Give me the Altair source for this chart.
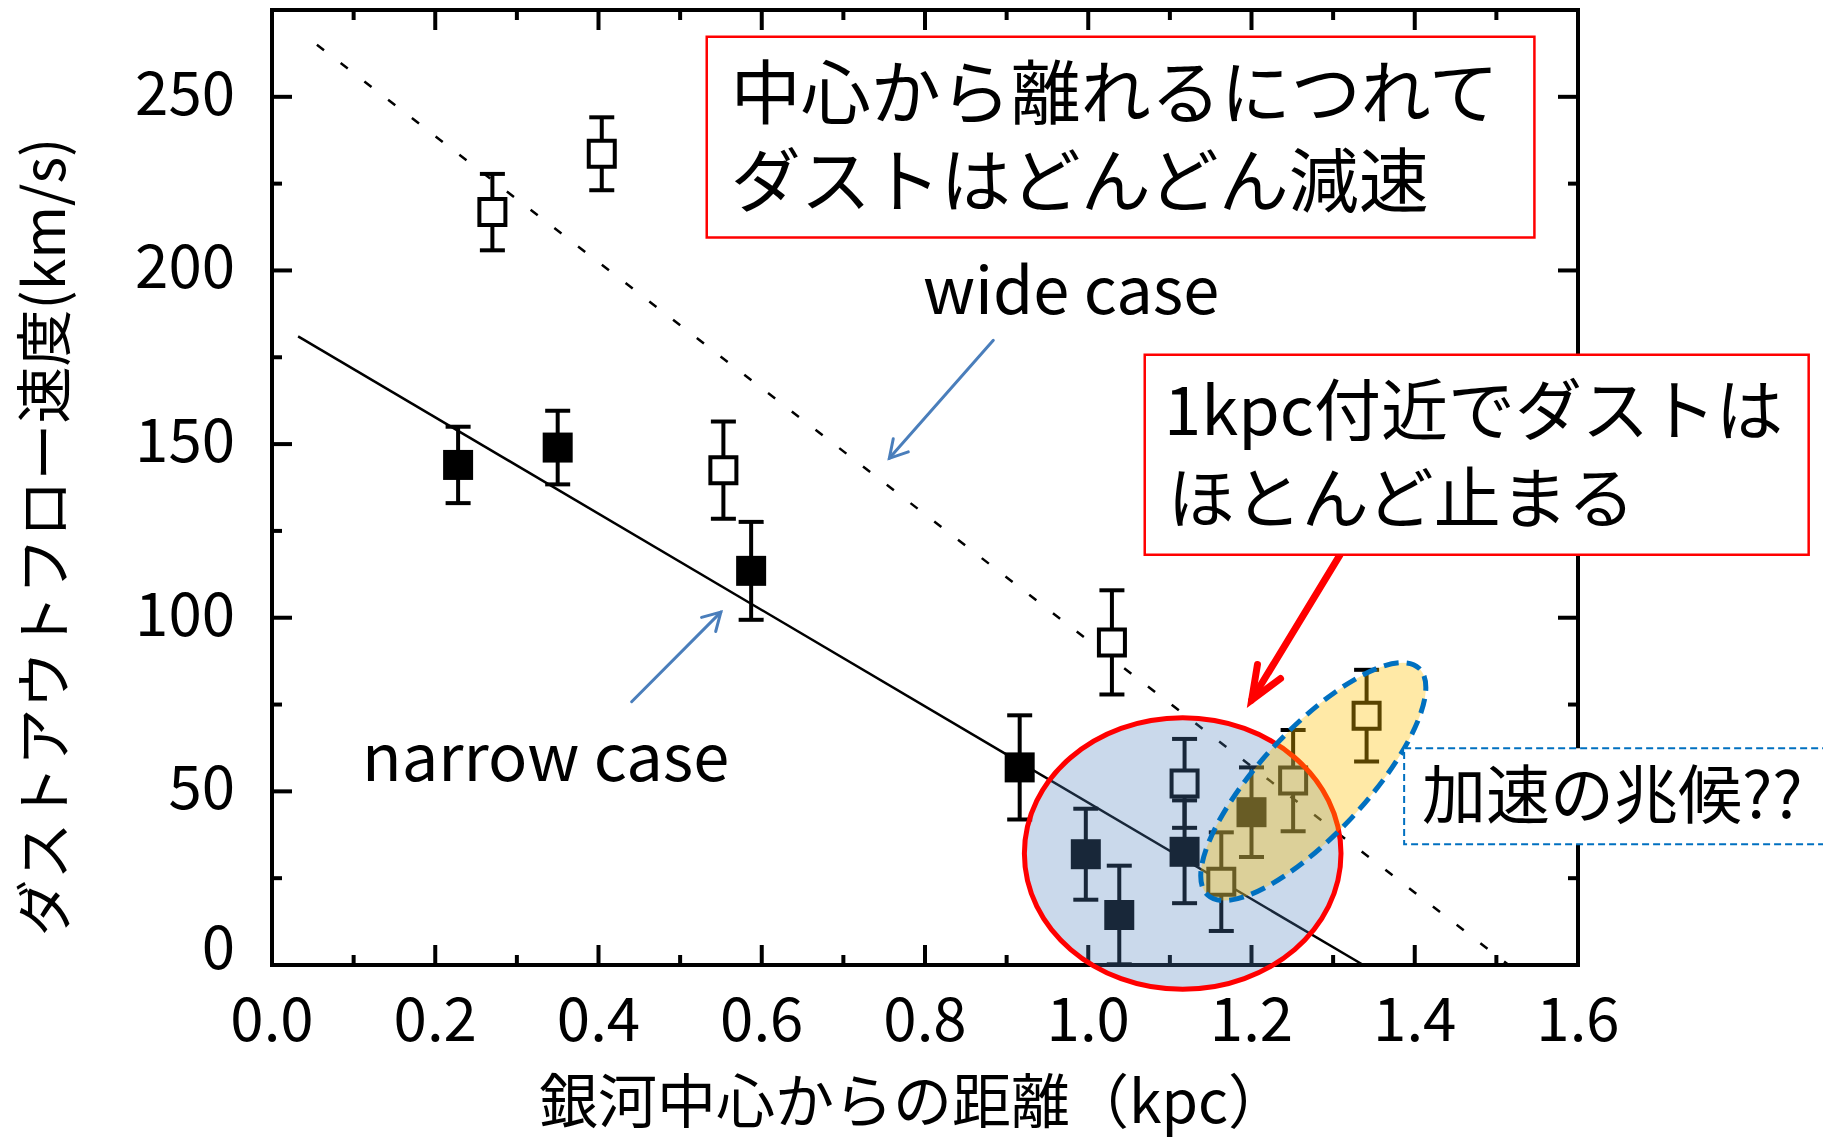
import altair as alt
import pandas as pd

# ---- measurements ---------------------------------------------------------
# narrow case (filled squares): distance from the galactic centre [kpc],
# dust outflow speed [km/s] and its error
narrow_r = [0.228, 0.350, 0.587, 0.916, 0.997, 1.038, 1.118, 1.200]
narrow_v = [144.0, 149.0, 113.5, 56.9, 31.9, 14.4, 32.6, 44.0]
narrow_e = [11.0, 10.6, 14.1, 15.0, 13.1, 14.2, 14.8, 12.9]

# wide case (open squares)
wide_r = [0.270, 0.404, 0.553, 1.029, 1.118, 1.163, 1.251, 1.341]
wide_v = [216.8, 233.6, 142.5, 92.9, 52.3, 24.0, 53.1, 71.8]
wide_e = [11.0, 10.5, 14.0, 15.0, 12.8, 14.2, 14.6, 13.2]

# linear fits, given by their end points
narrow_fit_r = [0.032, 1.337]
narrow_fit_v = [181.0, 0.0]
wide_fit_r = [0.055, 1.515]
wide_fit_v = [265.0, 0.0]

# axis ticks and their labels
x_major = [0.0, 0.2, 0.4, 0.6, 0.8, 1.0, 1.2, 1.4, 1.6]
x_minor = [0.1, 0.3, 0.5, 0.7, 0.9, 1.1, 1.3, 1.5]
y_major = [0, 50, 100, 150, 200, 250]
y_minor = [25, 75, 125, 175, 225]
x_labels = ["0.0", "0.2", "0.4", "0.6", "0.8", "1.0", "1.2", "1.4", "1.6"]
y_labels = ["0", "50", "100", "150", "200", "250"]

x_title = "銀河中心からの距離（kpc）"
y_title = "ダストアウトフロー速度(km/s)"

# ---- layout ----------------------------------------------------------------
W, H = 1306, 955
FONT = "Noto Sans CJK JP"
XS = alt.Scale(domain=[0, 1.6], nice=False, zero=False)
YS = alt.Scale(domain=[0, 275], nice=False, zero=False)


def X(field="r", **kw):
    return alt.X(field, type="quantitative", scale=XS, axis=None, **kw)


def Y(field="v", **kw):
    return alt.Y(field, type="quantitative", scale=YS, axis=None, **kw)


narrow = pd.DataFrame({"r": narrow_r, "v": narrow_v, "e": narrow_e})
wide = pd.DataFrame({"r": wide_r, "v": wide_v, "e": wide_e})
for df in (narrow, wide):
    df["lo"] = (df["v"] - df["e"]).clip(lower=0)
    df["hi"] = df["v"] + df["e"]

one = pd.DataFrame({"k": [0]})

# frame around the plot area
frame = alt.Chart(one).mark_rect(filled=False, stroke="black", strokeWidth=4).encode(
    x=alt.value(0), x2=alt.value(W), y=alt.value(0), y2=alt.value(H)
)


# inward ticks on all four sides
def xticks(values, length):
    d = pd.DataFrame({"r": values})
    base = alt.Chart(d).mark_rule(color="black", strokeWidth=4)
    return [
        base.encode(x=X(), y=alt.value(H), y2=alt.value(H - length)),
        base.encode(x=X(), y=alt.value(0), y2=alt.value(length)),
    ]


def yticks(values, length):
    d = pd.DataFrame({"v": values})
    base = alt.Chart(d).mark_rule(color="black", strokeWidth=4)
    return [
        base.encode(y=Y(), x=alt.value(0), x2=alt.value(length)),
        base.encode(y=Y(), x=alt.value(W), x2=alt.value(W - length)),
    ]


ticks = xticks(x_major, 20) + xticks(x_minor, 10) + yticks(y_major, 20) + yticks(y_minor, 10)

# tick labels
x_tick_labels = alt.Chart(pd.DataFrame({"r": x_major, "t": x_labels})).mark_text(
    font=FONT, fontSize=60, color="black", align="center", baseline="middle"
).encode(x=X(), y=alt.value(H + 58), text="t:N")

ylab = pd.DataFrame({"v": y_major, "t": y_labels})
y_tick_labels = alt.Chart(ylab[ylab["v"] > 0]).mark_text(
    font=FONT, fontSize=60, color="black", align="right", baseline="middle"
).encode(y=Y(), x=alt.value(-37), text="t:N")
# the zero label sits a little above its tick, clear of the x labels
y_zero_label = alt.Chart(ylab[ylab["v"] == 0]).mark_text(
    font=FONT, fontSize=60, color="black", align="right", baseline="middle", dy=-14
).encode(y=Y(), x=alt.value(-37), text="t:N")

# axis titles
x_axis_title = alt.Chart(pd.DataFrame({"t": [x_title]})).mark_text(
    font=FONT, fontSize=59, color="black", align="center", baseline="middle", dy=-1
).encode(x=alt.value(641), y=alt.value(H + 141), text="t:N")
y_axis_title = alt.Chart(pd.DataFrame({"t": [y_title]})).mark_text(
    font=FONT, fontSize=57, color="black", align="center", baseline="middle", angle=270
).encode(x=alt.value(-224), y=alt.value(527), text="t:N")

# fitted lines
narrow_fit = alt.Chart(pd.DataFrame({"r": narrow_fit_r, "v": narrow_fit_v})).mark_line(
    color="black", strokeWidth=2.5
).encode(x=X(), y=Y())
wide_fit = alt.Chart(pd.DataFrame({"r": wide_fit_r, "v": wide_fit_v})).mark_line(
    color="black", strokeWidth=2.5, strokeDash=[9, 21]
).encode(x=X(), y=Y())


def error_bars(df):
    bar = alt.Chart(df).mark_rule(color="black", strokeWidth=4).encode(
        x=X(), y=Y("lo"), y2="hi"
    )
    caps = pd.DataFrame({"r": list(df["r"]) * 2, "v": list(df["lo"]) + list(df["hi"])})
    cap = alt.Chart(caps).mark_tick(
        orient="horizontal", color="black", size=25, thickness=4, opacity=1
    ).encode(x=X(), y=Y())
    return [bar, cap]


wide_pts = alt.Chart(wide).mark_square(
    size=676, fill="white", stroke="black", strokeWidth=4, opacity=1
).encode(x=X(), y=Y())
narrow_pts = alt.Chart(narrow).mark_square(size=900, color="black", opacity=1).encode(
    x=X(), y=Y()
)

# highlighted regions
ELLIPSE_BLUE = "M -1 0 A 1 0.858 0 1 0 1 0 A 1 0.858 0 1 0 -1 0 Z"
ELLIPSE_GOLD = "M -1 0 A 1 0.34 0 1 0 1 0 A 1 0.34 0 1 0 -1 0 Z"
stop_region = alt.Chart(pd.DataFrame({"r": [1.1157], "v": [32.1]})).mark_point(
    shape=ELLIPSE_BLUE, size=316.6 ** 2, filled=True, fill="#4f81bd", fillOpacity=0.3,
    stroke="#ff0000", strokeWidth=5, strokeOpacity=1, opacity=1,
).encode(x=X(), y=Y())
accel_region = alt.Chart(pd.DataFrame({"r": [1.2757], "v": [52.8]})).mark_point(
    shape=ELLIPSE_GOLD, size=310 ** 2, angle=313, filled=True, fill="#ffc000",
    fillOpacity=0.35, stroke="#0070c0", strokeWidth=5, strokeOpacity=1,
    strokeDash=[15, 8], opacity=1,
).encode(x=X(), y=Y())

# arrows
V_WIDE = "M -0.375 -0.927 L 0 0 L 0.375 -0.927"
V_THIN = "M -0.5 -0.866 L 0 0 L 0.5 -0.866"


def arrow(r0, v0, r1, v1, color, width, head, head_size, angle):
    d = pd.DataFrame({"r": [r0], "v": [v0], "r2": [r1], "v2": [v1]})
    shaft = alt.Chart(d).mark_rule(color=color, strokeWidth=width, strokeCap="round").encode(
        x=X(), y=Y(), x2="r2", y2="v2"
    )
    tip = alt.Chart(d).mark_point(
        shape=head, size=head_size, angle=angle, filled=False, stroke=color,
        strokeWidth=width, strokeCap="round", opacity=1,
    ).encode(x=X("r2"), y=Y("v2"))
    return [shaft, tip]


arrows = (
    arrow(1.3084, 118.1, 1.2002, 76.3, "#ff0000", 7, V_WIDE, 72 ** 2, 31.3)
    + arrow(0.8837, 179.9, 0.7563, 145.9, "#4a7ebb", 3, V_THIN, 40 ** 2, 41.3)
    + arrow(0.4406, 75.8, 0.5499, 101.6, "#4a7ebb", 3, V_THIN, 40 ** 2, 225)
)

# callout boxes
boxes = pd.DataFrame({
    "r": [0.5326, 1.0692], "r2": [1.5466, 1.8826],
    "v": [267.3, 175.7], "v2": [209.5, 118.1],
})
red_boxes = alt.Chart(boxes).mark_rect(fill="white", stroke="#ff0000", strokeWidth=2.5).encode(
    x=X(), x2="r2", y=Y(), y2="v2"
)
hint_box = alt.Chart(pd.DataFrame({"r": [1.387], "r2": [1.95], "v": [62.4], "v2": [34.8]})).mark_rect(
    fill="white", stroke="#0070c0", strokeWidth=2, strokeDash=[7, 4]
).encode(x=X(), x2="r2", y=Y(), y2="v2")


def label(rows, size, baseline="middle", dy=0):
    d = pd.DataFrame(rows, columns=["r", "v", "t"])
    return alt.Chart(d).mark_text(
        align="left", baseline=baseline, font=FONT, fontSize=size, color="black", dy=dy
    ).encode(x=X(), y=Y(), text="t:N")


texts = [
    label([(0.562, 251.5, "中心から離れるにつれて"), (0.562, 226.0, "ダストはどんどん減速")], 70, dy=6),
    label([(1.0928, 160.1, "1kpc付近でダストは"), (1.0975, 134.8, "ほとんど止まる")], 67, dy=6),
    label([(1.4089, 49.2, "加速の兆候??")], 64, dy=5),
    label([(0.7975, 187.5, "wide case"), (0.1103, 53.0, "narrow case")], 65, baseline="alphabetic"),
]

layers = (
    [frame] + ticks + [narrow_fit, wide_fit]
    + error_bars(wide) + error_bars(narrow) + [wide_pts, narrow_pts]
    + [stop_region, accel_region]
    + arrows + [red_boxes, hint_box] + texts
    + [x_tick_labels, y_tick_labels, y_zero_label, x_axis_title, y_axis_title]
)

chart = (
    alt.layer(*layers)
    .properties(
        width=W, height=H,
        autosize=alt.AutoSizeParams(type="none"),
        padding={"left": 272, "top": 10, "right": 245, "bottom": 176},
        background="white",
    )
    .configure_view(stroke=None)
)

chart.save("out.html", embed_options={"renderer": "svg", "actions": False})
